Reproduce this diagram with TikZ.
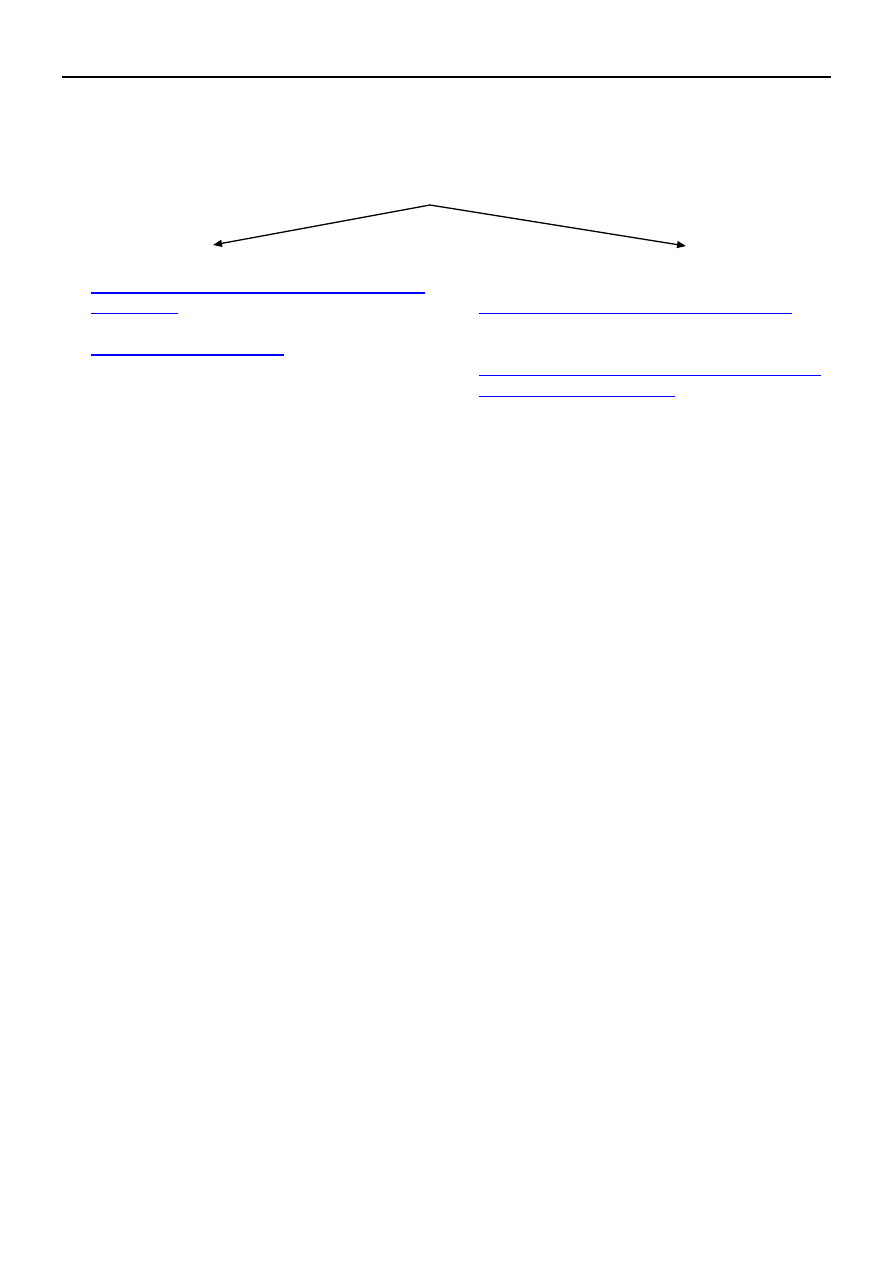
\documentclass[tikz,border=0pt]{standalone}
\usetikzlibrary{arrows.meta}
\definecolor{linkblue}{RGB}{0,0,255}
\tikzset{
  rulebar/.style={draw=black, line width=2.4pt},
  branch/.style={draw=black, line width=1.3pt, -{Triangle[length=9pt,width=7pt]}},
  thicklink/.style={draw=linkblue, line width=2.2pt},
  thinlink/.style={draw=linkblue, line width=1.3pt}
}
\begin{document}
\begin{tikzpicture}[x=1pt,y=-1pt]
\useasboundingbox[fill=white] (0,0) rectangle (893,1263);
% header rule
\coordinate (ruleL) at (62,77);
\coordinate (ruleR) at (831,77);
\draw[rulebar] (ruleL) -- (ruleR);
% branching arrows
\coordinate (apex) at (430,205);
\coordinate (tipL) at (213,245);
\coordinate (tipR) at (686,246);
\draw[branch] (apex) -- (tipL);
\draw[branch] (apex) -- (tipR);
% left column underlines
\coordinate (l1a) at (91,292.7); \coordinate (l1b) at (425,292.7);
\coordinate (l2a) at (91,313.3); \coordinate (l2b) at (178,313.3);
\coordinate (l3a) at (91,355);   \coordinate (l3b) at (284,355);
\draw[thicklink] (l1a) -- (l1b);
\draw[thinlink] (l2a) -- (l2b);
\draw[thicklink] (l3a) -- (l3b);
% right column underlines
\coordinate (r1a) at (479,313.3); \coordinate (r1b) at (792,313.3);
\coordinate (r2a) at (479,375.3); \coordinate (r2b) at (821,375.3);
\coordinate (r3a) at (479,396.3); \coordinate (r3b) at (675,396.3);
\draw[thinlink] (r1a) -- (r1b);
\draw[thinlink] (r2a) -- (r2b);
\draw[thinlink] (r3a) -- (r3b);
\end{tikzpicture}
\end{document}
